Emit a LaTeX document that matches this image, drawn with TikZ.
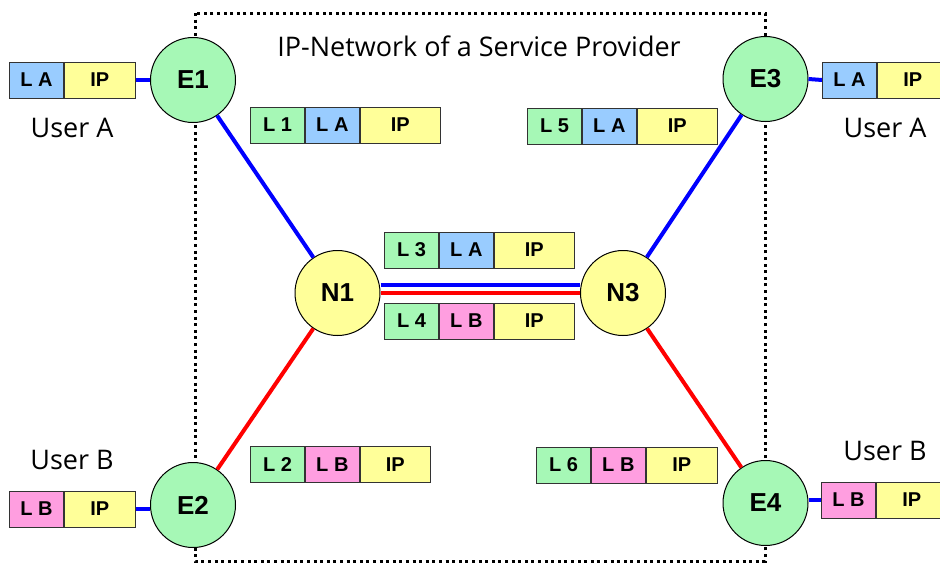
\documentclass[tikz,border=0pt]{standalone}
\usepackage{fontspec}
\setmainfont{Liberation Sans}
\newfontfamily\handfont{Open Sans}
\definecolor{cgreen}{RGB}{166,248,182}
\definecolor{cblue}{RGB}{153,204,255}
\definecolor{cyellow}{RGB}{255,255,153}
\definecolor{cpink}{RGB}{255,158,224}
\definecolor{lblue}{RGB}{0,0,255}
\definecolor{lred}{RGB}{255,0,0}
\begin{document}
\begin{tikzpicture}[x=1pt,y=-1pt,
  cell/.style={draw=black!80,line width=0.9pt,minimum height=36pt,inner sep=0pt,
    anchor=west,font=\fontsize{20}{20}\selectfont\bfseries},
  lcell/.style={cell,fill=cgreen,minimum width=54pt},
  acell/.style={cell,fill=cblue,minimum width=54pt},
  bcell/.style={cell,fill=cpink,minimum width=54pt},
  ipcell/.style={cell,fill=cyellow},
  router/.style={circle,draw=black,line width=1pt,minimum size=85pt,inner sep=0pt,
    font=\fontsize{26}{26}\selectfont\bfseries},
  edge router/.style={router,fill=cgreen},
  core router/.style={router,fill=cyellow},
  bluelink/.style={draw=lblue,line width=4pt},
  redlink/.style={draw=lred,line width=4pt},
  hand/.style={font=\handfont\fontsize{27}{27}\selectfont}]
\useasboundingbox (0,0) rectangle (940,563);

% provider network boundary
\draw[line width=3pt,dash pattern=on 3pt off 3.6pt] (195,13) rectangle (765,561);
\node[hand] (title) at (479,46) {IP-Network of a Service Provider};

% routers
\node[edge router] (E1) at (193,80) {E1};
\node[edge router] (E2) at (193,505) {E2};
\node[edge router] (E3) at (765.5,79) {E3};
\node[edge router] (E4) at (765.5,503) {E4};
\node[core router] (N1) at (337.5,293) {N1};
\node[core router] (N3) at (623,293) {N3};

% user packets
\node[acell] (uaL) at (9,80) {L A};
\node[ipcell,minimum width=71pt] (uaLip) at (uaL.east) {IP};
\node[acell] (uaR) at (822,80) {L A};
\node[ipcell,minimum width=71pt] (uaRip) at (uaR.east) {IP};
\node[bcell] (ubL) at (9,509) {L B};
\node[ipcell,minimum width=71pt] (ubLip) at (ubL.east) {IP};
\node[bcell] (ubR) at (821,500) {L B};
\node[ipcell,minimum width=71pt] (ubRip) at (ubR.east) {IP};

\node[hand] (userAL) at (72,128) {User A};
\node[hand] (userAR) at (885,128) {User A};
\node[hand] (userBL) at (72,460) {User B};
\node[hand] (userBR) at (885,451) {User B};

% labelled packets inside the network
\node[lcell] (p1) at (250,125) {L 1};
\node[acell] (p1a) at (p1.east) {L A};
\node[ipcell,minimum width=80pt] (p1ip) at (p1a.east) {IP};

\node[lcell] (p5) at (527,126) {L 5};
\node[acell] (p5a) at (p5.east) {L A};
\node[ipcell,minimum width=80pt] (p5ip) at (p5a.east) {IP};

\node[lcell] (p3) at (384,250) {L 3};
\node[acell] (p3a) at (p3.east) {L A};
\node[ipcell,minimum width=80pt] (p3ip) at (p3a.east) {IP};

\node[lcell] (p4) at (384,321) {L 4};
\node[bcell] (p4b) at (p4.east) {L B};
\node[ipcell,minimum width=80pt] (p4ip) at (p4b.east) {IP};

\node[lcell] (p2) at (250,464.5) {L 2};
\node[bcell] (p2b) at (p2.east) {L B};
\node[ipcell,minimum width=70pt] (p2ip) at (p2b.east) {IP};

\node[lcell] (p6) at (536,465) {L 6};
\node[bcell] (p6b) at (p6.east) {L B};
\node[ipcell,minimum width=71pt] (p6ip) at (p6b.east) {IP};

% access links
\draw[bluelink] (uaLip.east) -- (E1.west);
\draw[bluelink] (E3.east) -- (uaR.west);
\draw[bluelink] (ubLip.east) -- (ubLip.east -| E2.west);
\draw[bluelink] (E4.east |- ubR.west) -- (ubR.west);

% core links
\draw[bluelink] (E1) -- (N1);
\draw[bluelink] (E3) -- (N3);
\draw[redlink] (E2) -- (N1);
\draw[redlink] (E4) -- (N3);
\draw[bluelink] ([yshift=8.5pt]N1.east) -- ([yshift=8.5pt]N3.west);
\draw[redlink] (N1.east) -- (N3.west);
\end{tikzpicture}
\end{document}
